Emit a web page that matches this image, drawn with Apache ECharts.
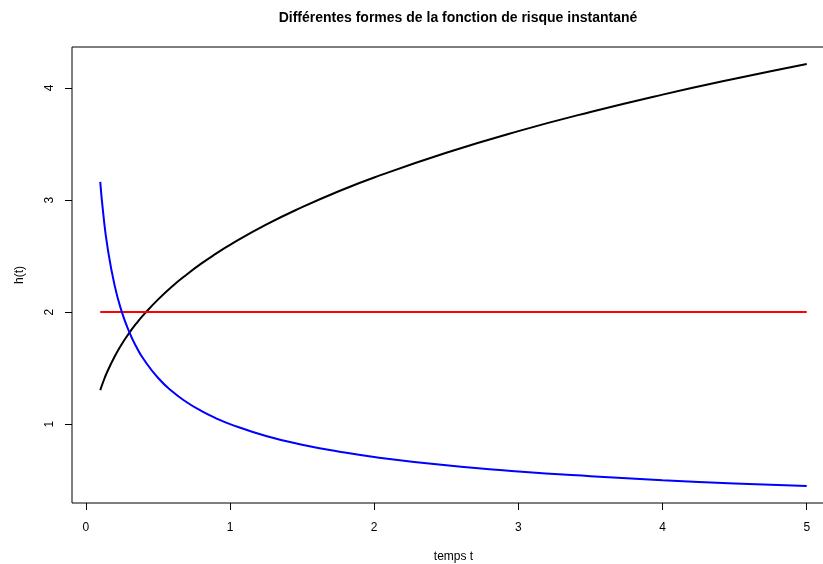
<!DOCTYPE html>
<html>
<head>
<meta charset="utf-8">
<script src="https://cdn.jsdelivr.net/npm/echarts@6/dist/echarts.min.js"></script>
<style>html,body{margin:0;padding:0;background:#fff;}#c{width:823px;height:564px;}</style>
</head>
<body>
<div id="c"></div>
<script>
const tValues = [0.1, 0.12, 0.15, 0.2, 0.25, 0.3, 0.35, 0.4, 0.5, 0.6, 0.7, 0.8, 0.9, 1, 1.25, 1.5, 1.75, 2, 2.5, 3, 3.5, 4, 4.5, 5];
const hBlack = [1.303, 1.376, 1.472, 1.604, 1.716, 1.812, 1.898, 1.975, 2.111, 2.231, 2.336, 2.432, 2.519, 2.600, 2.780, 2.936, 3.076, 3.201, 3.422, 3.615, 3.786, 3.941, 4.083, 4.215];
const hRed = [2, 2, 2, 2, 2, 2, 2, 2, 2, 2, 2, 2, 2, 2, 2, 2, 2, 2, 2, 2, 2, 2, 2, 2];
const hBlue = [3.162, 2.887, 2.582, 2.236, 2.000, 1.826, 1.690, 1.581, 1.414, 1.291, 1.195, 1.118, 1.054, 1.000, 0.894, 0.816, 0.756, 0.707, 0.632, 0.577, 0.535, 0.500, 0.471, 0.447];
const xTicks = [0, 1, 2, 3, 4, 5];
const yTicks = [1, 2, 3, 4];
const titleText = 'Différentes formes de la fonction de risque instantané';
const xName = 'temps t';
const yName = 'h(t)';

const pairs = (ys) => tValues.map((t, i) => [t, ys[i]]);
const font = 'Liberation Sans, Arial, Helvetica, sans-serif';

const chart = echarts.init(document.getElementById('c'), null, {renderer: 'canvas'});
chart.setOption({
  animation: false,
  backgroundColor: '#fff',
  title: {
    text: titleText,
    left: 453, top: 6, textAlign: 'center',
    textStyle: {fontFamily: font, fontSize: 14, fontWeight: 'bold', color: '#000'}
  },
  grid: {left: 72, top: 47, width: 763, height: 456, outerBoundsMode: 'none', containLabel: false, show: true, borderColor: '#000', borderWidth: 1, backgroundColor: 'transparent'},
  xAxis: {
    type: 'value', min: -0.096, max: 5.196,
    name: xName, nameLocation: 'middle', nameGap: 48,
    nameTextStyle: {fontFamily: font, fontSize: 12, color: '#000'},
    axisLine: {show: false, onZero: false},
    splitLine: {show: false},
    axisTick: {show: true, inside: false, length: 7, customValues: xTicks, lineStyle: {color: '#000', width: 1}},
    axisLabel: {customValues: xTicks, margin: 19, fontFamily: font, fontSize: 12, color: '#000'}
  },
  yAxis: {
    type: 'value', min: 0.296, max: 4.366,
    name: yName, nameLocation: 'middle', nameGap: 46, nameRotate: 90,
    nameTextStyle: {fontFamily: font, fontSize: 12, color: '#000'},
    axisLine: {show: false, onZero: false},
    splitLine: {show: false},
    axisTick: {show: true, inside: false, length: 7, customValues: yTicks, lineStyle: {color: '#000', width: 1}},
    axisLabel: {customValues: yTicks, rotate: 90, margin: 16, fontFamily: font, fontSize: 12, color: '#000'}
  },
  series: [
    {type: 'line', data: pairs(hBlack), showSymbol: false, smooth: 0.5, lineStyle: {color: '#000', width: 2}, itemStyle: {color: '#000'}},
    {type: 'line', data: pairs(hRed), showSymbol: false, lineStyle: {color: '#ff0000', width: 2}, itemStyle: {color: '#ff0000'}},
    {type: 'line', data: pairs(hBlue), showSymbol: false, smooth: 0.5, lineStyle: {color: '#0000ff', width: 2}, itemStyle: {color: '#0000ff'}}
  ]
});
</script>
</body>
</html>
